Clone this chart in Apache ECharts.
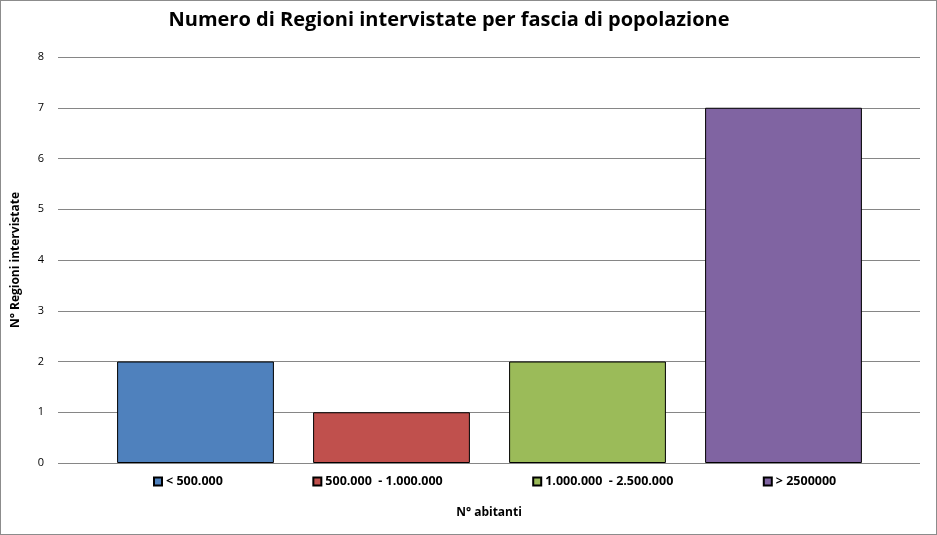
<!DOCTYPE html>
<html>
<head>
<meta charset="utf-8">
<script src="https://cdn.jsdelivr.net/npm/echarts@6/dist/echarts.min.js"></script>
<style>
  html, body { margin: 0; padding: 0; background: #fff; }
  #chart { width: 935px; height: 533px; border: 1px solid #8c8c8c; }
</style>
</head>
<body>
<div id="chart"></div>
<script>
  // dati del grafico
  const categories = ['< 500.000', '500.000  - 1.000.000', '1.000.000  - 2.500.000', '> 2500000'];
  const values = [2, 1, 2, 7];
  const colors = ['#4F81BD', '#C0504D', '#9BBB59', '#8064A2'];
  const yTicks = [0, 1, 2, 3, 4, 5, 6, 7, 8];

  const font = 'Open Sans';
  const myChart = echarts.init(document.getElementById('chart'));

  const yMin = yTicks[0], yMax = yTicks[yTicks.length - 1];

  // una serie per categoria, sovrapposte (barGap -100%) così la legenda mostra le fasce
  const series = categories.map((name, i) => ({
    name: name,
    type: 'bar',
    xAxisIndex: 1, yAxisIndex: 1,
    data: categories.map((c, j) => (j === i ? values[j] : '-')),
    barWidth: '80%',
    barGap: '-100%',
    itemStyle: { color: colors[i], borderColor: '#000', borderWidth: 1 }
  }));

  const option = {
    animation: false,
    title: {
      text: 'Numero di Regioni intervistate per fascia di popolazione',
      left: 443, top: 4, textAlign: 'center',
      textStyle: { fontFamily: font, fontSize: 20, fontWeight: 'bold', color: '#000' }
    },
    legend: {
      data: categories,
      left: 147, top: 469,
      itemWidth: 8, itemHeight: 8,
      itemGap: 89.5,
      icon: 'rect',
      textStyle: { fontFamily: font, fontSize: 12.5, fontWeight: 'bold', color: '#000', padding: [0, 0, 0, -1] }
    },
    // griglia 0: linee orizzontali su tutta la larghezza; griglia 1: barre
    grid: [
      { left: 57, right: 16, top: 56, bottom: 71 },
      { left: 96.5, right: 54.5, top: 56, bottom: 71 }
    ],
    xAxis: [
      {
        gridIndex: 0, type: 'value', min: 0, max: 1,
        name: 'N° abitanti',
        nameLocation: 'middle',
        nameGap: 44,
        nameTextStyle: { fontFamily: font, fontSize: 12, fontWeight: 'bold', color: '#000' },
        axisLine: { show: false }, axisTick: { show: false },
        axisLabel: { show: false }, splitLine: { show: false }
      },
      {
        gridIndex: 1, type: 'category', data: categories,
        axisLine: { show: false },
        axisTick: { show: false },
        axisLabel: { show: false }
      }
    ],
    yAxis: [
      {
        gridIndex: 0, type: 'value',
        min: yMin, max: yMax, interval: 1,
        name: 'N° Regioni intervistate',
        nameLocation: 'middle',
        nameGap: 36,
        nameTextStyle: { fontFamily: font, fontSize: 12, fontWeight: 'bold', color: '#000' },
        axisLine: { show: false },
        axisTick: { show: false },
        axisLabel: { margin: 14, fontFamily: font, fontSize: 11, color: '#000' },
        splitLine: { lineStyle: { color: '#868686', width: 1 } }
      },
      {
        gridIndex: 1, type: 'value', min: yMin, max: yMax, interval: 1,
        axisLine: { show: false }, axisTick: { show: false },
        axisLabel: { show: false }, splitLine: { show: false }
      }
    ],
    series: series
  };

  myChart.setOption(option);
</script>
</body>
</html>
